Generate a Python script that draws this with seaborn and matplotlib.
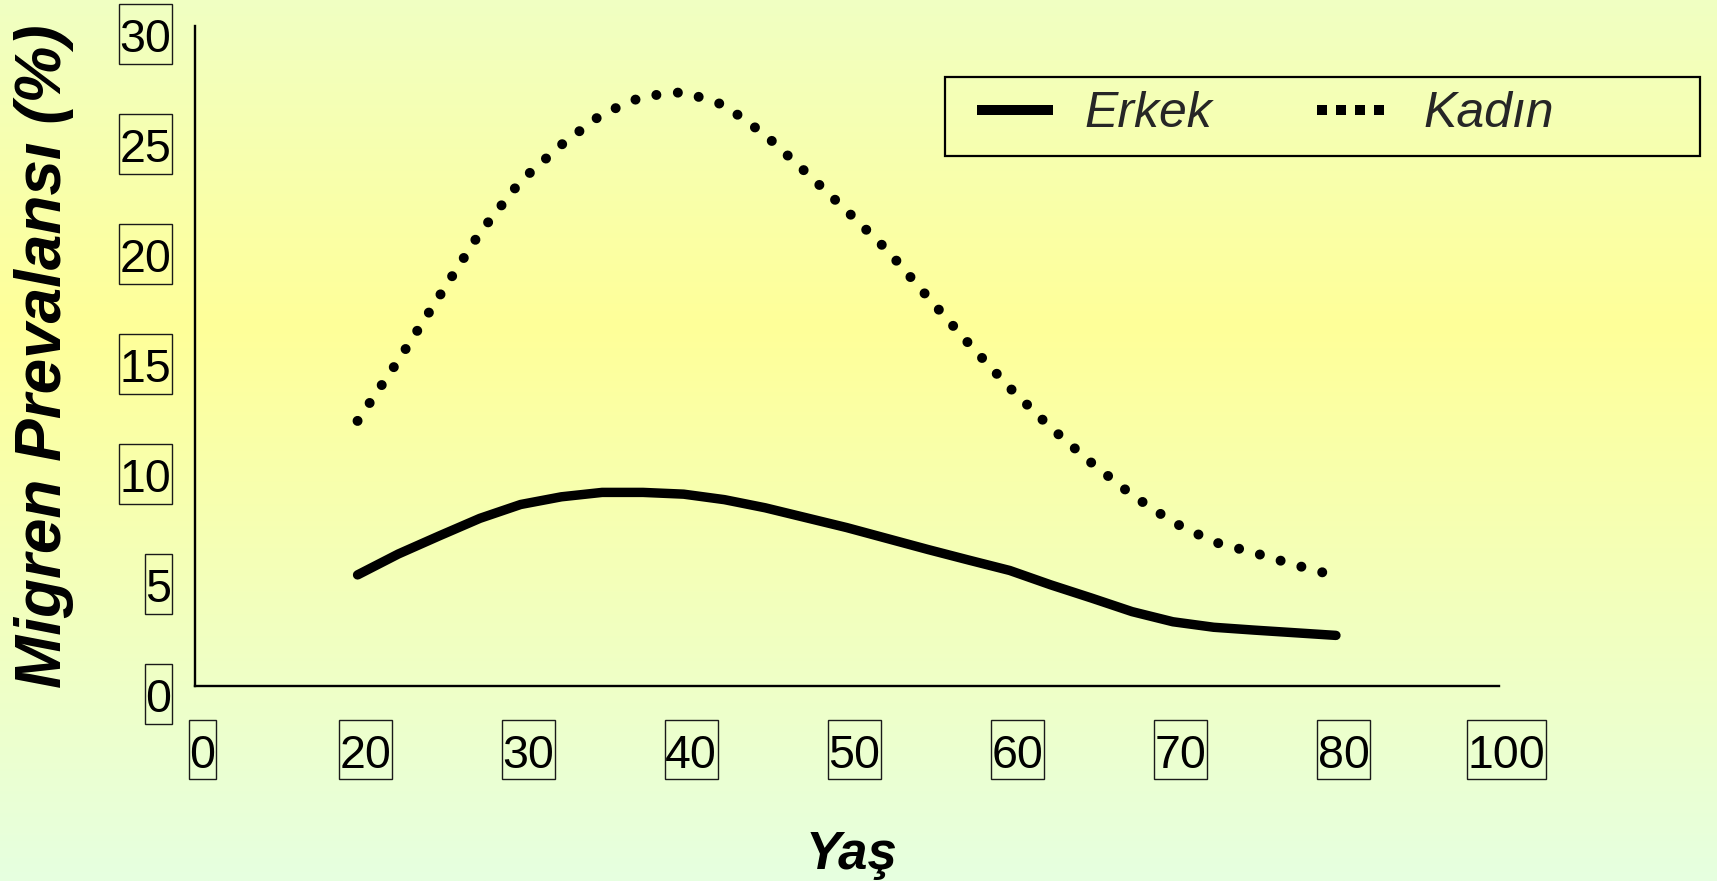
import numpy as np
import pandas as pd
import matplotlib
matplotlib.use("Agg")
import matplotlib.pyplot as plt
import matplotlib.transforms as mtransforms
from matplotlib.path import Path
from matplotlib.lines import Line2D
from matplotlib.patches import Rectangle
import seaborn as sns

# ---------------- data ----------------
x_tick_labels = [0, 20, 30, 40, 50, 60, 70, 80, 100]
y_ticks = [0, 5, 10, 15, 20, 25, 30]

ages = [20, 22.5, 25, 27.5, 30, 32.5, 35, 37.5, 40, 42.5, 45, 47.5, 50,
        52.5, 55, 57.5, 60, 62.5, 65, 67.5, 70, 72.5, 75, 77.5, 80]
erkek = [5.05, 6.0, 6.82, 7.62, 8.25, 8.6, 8.8, 8.8, 8.72, 8.47, 8.1, 7.65, 7.2,
         6.7, 6.2, 5.72, 5.25, 4.6, 4.0, 3.38, 2.92, 2.67, 2.54, 2.42, 2.3]
kadin = [12.05, 14.8, 17.7, 20.6, 22.95, 24.6, 26.0, 26.8, 27.0, 26.4, 25.05, 23.35, 21.6,
         19.8, 17.65, 15.55, 13.55, 11.75, 10.15, 8.68, 7.45, 6.55, 6.05, 5.5, 5.0]

series_names = ["Erkek", "Kadın"]
x_title = "Yaş"
y_title = "Migren Prevalansı (%)"

# ---------------- style ----------------
sns.set_theme(style="white")
plt.rcParams["font.family"] = ["Liberation Sans", "DejaVu Sans"]

W, H, DPI = 1717, 881, 100
fig = plt.figure(figsize=(W / DPI, H / DPI), dpi=DPI)

# background gradient (yellow band, pale edges)
bg = fig.add_axes([0, 0, 1, 1], zorder=-10)
yy = np.linspace(0, 1, 400)[:, None]  # 0 = top
center = np.array([255, 255, 153]) / 255.0
edge = np.array([230, 255, 224]) / 255.0
t = np.clip(np.abs(yy - 0.37) / 0.63, 0, 1)
img = center[None, None, :] * (1 - t[..., None]) + edge[None, None, :] * t[..., None]
img = np.repeat(img, 4, axis=1)
bg.imshow(img, aspect="auto", extent=[0, 1, 0, 1], origin="upper")
bg.set_axis_off()
fig.patch.set_facecolor(edge)

ax = fig.add_axes([194.5 / W, 1 - 686 / H, (1499 - 194.5) / W, (686 - 26) / H])
ax.set_facecolor("none")

pos = np.arange(len(x_tick_labels))
df = pd.DataFrame({"age": ages, "Erkek": erkek, "Kadın": kadin})
df["pos"] = np.interp(df["age"], x_tick_labels, pos)

sns.lineplot(data=df, x="pos", y="Erkek", ax=ax, color="black", linewidth=6.8,
             solid_capstyle="round", solid_joinstyle="round",
             estimator=None, sort=False, legend=False)
sns.lineplot(data=df, x="pos", y="Kadın", ax=ax, color="black", linewidth=7.2,
             linestyle=(0, (0.001, 2.16)), dash_capstyle="round",
             estimator=None, sort=False, legend=False)

ax.set_xlim(0, len(x_tick_labels) - 1)
ax.set_ylim(0, 30)
ax.set_xticks(pos)
ax.set_xticklabels([str(v) for v in x_tick_labels])
ax.set_yticks(y_ticks)
ax.set_yticklabels([str(v) for v in y_ticks])
ax.set_xlabel("")
ax.set_ylabel("")

for s in ["top", "right"]:
    ax.spines[s].set_visible(False)
for s in ["left", "bottom"]:
    ax.spines[s].set_color("black")
    ax.spines[s].set_linewidth(1.7)

ax.tick_params(axis="both", which="major", direction="out", length=7.2, width=1.6,
               color="black", labelsize=33.5, labelcolor="black")
ax.tick_params(axis="y", pad=9.5)
ax.tick_params(axis="x", pad=27)


def tick_box(x0, y0, width, height, mutation_size):
    ms = mutation_size
    base = y0 + 0.212 * ms
    bx0 = x0 - 0.01 * ms
    bx1 = x0 + width + 0.02 * ms
    by0 = base - 0.25 * ms
    by1 = base + 0.716 * ms + 0.31 * ms
    verts = [(bx0, by0), (bx1, by0), (bx1, by1), (bx0, by1), (bx0, by0)]
    codes = [Path.MOVETO, Path.LINETO, Path.LINETO, Path.LINETO, Path.CLOSEPOLY]
    return Path(verts, codes)


box_kw = dict(boxstyle=tick_box, facecolor="none", edgecolor="#1a1a1a", linewidth=1.0)
dx = mtransforms.ScaledTranslation(0.075, 0, fig.dpi_scale_trans)
dy = mtransforms.ScaledTranslation(0, -0.09, fig.dpi_scale_trans)
for lab in ax.get_xticklabels():
    lab.set_bbox(box_kw)
    lab.set_transform(lab.get_transform() + dx)
for lab in ax.get_yticklabels():
    lab.set_bbox(box_kw)
    lab.set_transform(lab.get_transform() + dy)

# axis titles
fig.text(44 / W, 1 - 356 / H, y_title, rotation=90, ha="center", va="center",
         fontsize=46, fontweight="bold", fontstyle="italic", color="black")
fig.text(851 / W, 1 - 869 / H, x_title, ha="center", va="baseline",
         fontsize=38, fontweight="bold", fontstyle="italic", color="black")

# legend
handles = [
    Line2D([], [], color="black", linewidth=7.2, solid_capstyle="butt"),
    Line2D([], [], color="black", linewidth=7.2, linestyle=(0, (1.0, 0.9)),
           dash_capstyle="butt"),
]
leg = fig.legend(handles, series_names, loc="center left",
                 bbox_to_anchor=(977 / W, 1 - 114 / H), ncol=2, frameon=False,
                 borderpad=0, borderaxespad=0, handlelength=1.52, handletextpad=0.62,
                 columnspacing=2.1, prop=dict(size=36, style="italic"))
fig.add_artist(Rectangle((945 / W, 1 - 156 / H), (1700 - 945) / W, (156 - 77) / H,
                         transform=fig.transFigure, fill=False, edgecolor="black",
                         linewidth=1.6))

fig.savefig("out.png", dpi=DPI, facecolor=fig.get_facecolor())
